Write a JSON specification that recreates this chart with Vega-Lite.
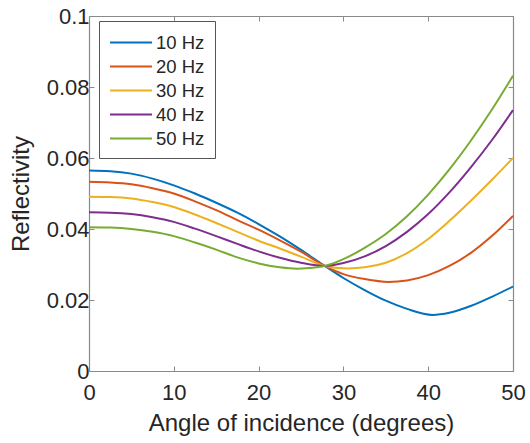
{
  "$schema": "https://vega.github.io/schema/vega-lite/v6.json",
  "autosize": "none",
  "width": 424,
  "height": 355,
  "padding": {"left": 89, "top": 16, "right": 17, "bottom": 72},
  "background": "white",
  "config": {
    "view": {"stroke": null},
    "font": "Liberation Sans",
    "axis": {
      "domainColor": "#8a8a8a",
      "tickColor": "#8a8a8a",
      "domainWidth": 1.2,
      "labelColor": "#262626",
      "titleColor": "#262626",
      "labelFont": "Liberation Sans",
      "titleFont": "Liberation Sans",
      "labelFontSize": 22,
      "titleFontSize": 24,
      "titleFontWeight": "normal",
      "labelFlush": false,
      "labelOverlap": false,
      "grid": false,
      "tickSize": -5
    },
    "legend": {
      "labelFont": "Liberation Sans",
      "labelFontSize": 18.5,
      "labelColor": "#262626"
    }
  },
  "data": {
    "values": [
      {"f": "10 Hz", "a": 0, "r": 0.0565}, {"f": "10 Hz", "a": 2.5, "r": 0.0563}, {"f": "10 Hz", "a": 5, "r": 0.0556}, {"f": "10 Hz", "a": 7.5, "r": 0.0542}, {"f": "10 Hz", "a": 10, "r": 0.0523}, {"f": "10 Hz", "a": 12.5, "r": 0.0500}, {"f": "10 Hz", "a": 15, "r": 0.0474}, {"f": "10 Hz", "a": 17.5, "r": 0.0446}, {"f": "10 Hz", "a": 20, "r": 0.0414}, {"f": "10 Hz", "a": 22.5, "r": 0.0379}, {"f": "10 Hz", "a": 25, "r": 0.0341}, {"f": "10 Hz", "a": 27.8, "r": 0.0296}, {"f": "10 Hz", "a": 30, "r": 0.0262}, {"f": "10 Hz", "a": 32.5, "r": 0.0228}, {"f": "10 Hz", "a": 35, "r": 0.0198}, {"f": "10 Hz", "a": 37.5, "r": 0.0175}, {"f": "10 Hz", "a": 40.5, "r": 0.0158}, {"f": "10 Hz", "a": 42.5, "r": 0.0164}, {"f": "10 Hz", "a": 45, "r": 0.0183}, {"f": "10 Hz", "a": 47.5, "r": 0.0209}, {"f": "10 Hz", "a": 50, "r": 0.0238},
      {"f": "20 Hz", "a": 0, "r": 0.0533}, {"f": "20 Hz", "a": 2.5, "r": 0.0531}, {"f": "20 Hz", "a": 5, "r": 0.0526}, {"f": "20 Hz", "a": 7.5, "r": 0.0515}, {"f": "20 Hz", "a": 10, "r": 0.0500}, {"f": "20 Hz", "a": 12.5, "r": 0.0478}, {"f": "20 Hz", "a": 15, "r": 0.0453}, {"f": "20 Hz", "a": 17.5, "r": 0.0425}, {"f": "20 Hz", "a": 20, "r": 0.0398}, {"f": "20 Hz", "a": 22.5, "r": 0.0368}, {"f": "20 Hz", "a": 25, "r": 0.0336}, {"f": "20 Hz", "a": 27.8, "r": 0.0296}, {"f": "20 Hz", "a": 30, "r": 0.0273}, {"f": "20 Hz", "a": 32.5, "r": 0.0259}, {"f": "20 Hz", "a": 35.3, "r": 0.0251}, {"f": "20 Hz", "a": 37.5, "r": 0.0255}, {"f": "20 Hz", "a": 40, "r": 0.0270}, {"f": "20 Hz", "a": 42.5, "r": 0.0296}, {"f": "20 Hz", "a": 45, "r": 0.0332}, {"f": "20 Hz", "a": 47.5, "r": 0.0380}, {"f": "20 Hz", "a": 50, "r": 0.0437},
      {"f": "30 Hz", "a": 0, "r": 0.0491}, {"f": "30 Hz", "a": 2.5, "r": 0.0490}, {"f": "30 Hz", "a": 5, "r": 0.0486}, {"f": "30 Hz", "a": 7.5, "r": 0.0476}, {"f": "30 Hz", "a": 10, "r": 0.0462}, {"f": "30 Hz", "a": 12.5, "r": 0.0441}, {"f": "30 Hz", "a": 15, "r": 0.0417}, {"f": "30 Hz", "a": 17.5, "r": 0.0392}, {"f": "30 Hz", "a": 20, "r": 0.0367}, {"f": "30 Hz", "a": 22.5, "r": 0.0345}, {"f": "30 Hz", "a": 25, "r": 0.0322}, {"f": "30 Hz", "a": 27.8, "r": 0.0296}, {"f": "30 Hz", "a": 30.5, "r": 0.0289}, {"f": "30 Hz", "a": 32.5, "r": 0.0292}, {"f": "30 Hz", "a": 35, "r": 0.0305}, {"f": "30 Hz", "a": 37.5, "r": 0.0332}, {"f": "30 Hz", "a": 40, "r": 0.0372}, {"f": "30 Hz", "a": 42.5, "r": 0.0423}, {"f": "30 Hz", "a": 45, "r": 0.0479}, {"f": "30 Hz", "a": 47.5, "r": 0.0538}, {"f": "30 Hz", "a": 50, "r": 0.0600},
      {"f": "40 Hz", "a": 0, "r": 0.0447}, {"f": "40 Hz", "a": 2.5, "r": 0.0446}, {"f": "40 Hz", "a": 5, "r": 0.0442}, {"f": "40 Hz", "a": 7.5, "r": 0.0433}, {"f": "40 Hz", "a": 10, "r": 0.0420}, {"f": "40 Hz", "a": 12.5, "r": 0.0401}, {"f": "40 Hz", "a": 15, "r": 0.0380}, {"f": "40 Hz", "a": 17.5, "r": 0.0358}, {"f": "40 Hz", "a": 20, "r": 0.0337}, {"f": "40 Hz", "a": 22.5, "r": 0.0319}, {"f": "40 Hz", "a": 25, "r": 0.0305}, {"f": "40 Hz", "a": 27.8, "r": 0.0296}, {"f": "40 Hz", "a": 30, "r": 0.0304}, {"f": "40 Hz", "a": 32.5, "r": 0.0323}, {"f": "40 Hz", "a": 35, "r": 0.0352}, {"f": "40 Hz", "a": 37.5, "r": 0.0392}, {"f": "40 Hz", "a": 40, "r": 0.0442}, {"f": "40 Hz", "a": 42.5, "r": 0.0503}, {"f": "40 Hz", "a": 45, "r": 0.0573}, {"f": "40 Hz", "a": 47.5, "r": 0.0650}, {"f": "40 Hz", "a": 50, "r": 0.0735},
      {"f": "50 Hz", "a": 0, "r": 0.0405}, {"f": "50 Hz", "a": 2.5, "r": 0.0404}, {"f": "50 Hz", "a": 5, "r": 0.0400}, {"f": "50 Hz", "a": 7.5, "r": 0.0392}, {"f": "50 Hz", "a": 10, "r": 0.0380}, {"f": "50 Hz", "a": 12.5, "r": 0.0362}, {"f": "50 Hz", "a": 15, "r": 0.0342}, {"f": "50 Hz", "a": 17.5, "r": 0.0320}, {"f": "50 Hz", "a": 20, "r": 0.0303}, {"f": "50 Hz", "a": 22.5, "r": 0.0292}, {"f": "50 Hz", "a": 24.5, "r": 0.0288}, {"f": "50 Hz", "a": 26, "r": 0.0290}, {"f": "50 Hz", "a": 27.8, "r": 0.0296}, {"f": "50 Hz", "a": 30, "r": 0.0315}, {"f": "50 Hz", "a": 32.5, "r": 0.0347}, {"f": "50 Hz", "a": 35, "r": 0.0386}, {"f": "50 Hz", "a": 37.5, "r": 0.0436}, {"f": "50 Hz", "a": 40, "r": 0.0497}, {"f": "50 Hz", "a": 42.5, "r": 0.0568}, {"f": "50 Hz", "a": 45, "r": 0.0648}, {"f": "50 Hz", "a": 47.5, "r": 0.0736}, {"f": "50 Hz", "a": 50, "r": 0.0832}
    ]
  },
  "layer": [
    {
      "mark": {"type": "line", "strokeWidth": 2, "interpolate": "monotone"},
      "encoding": {
        "x": {"field": "a", "type": "quantitative", "scale": {"domain": [0, 50], "nice": false, "zero": false},
          "axis": {"values": [0, 10, 20, 30, 40, 50], "title": "Angle of incidence (degrees)", "labelPadding": 16, "titlePadding": 8, "orient": "bottom"}},
        "y": {"field": "r", "type": "quantitative", "scale": {"domain": [0, 0.1], "nice": false},
          "axis": {"values": [0, 0.02, 0.04, 0.06, 0.08, 0.1], "format": "~g", "title": "Reflectivity", "labelPadding": 5, "titlePadding": 13, "orient": "left"}},
        "color": {"field": "f", "type": "nominal",
          "scale": {"domain": ["10 Hz", "20 Hz", "30 Hz", "40 Hz", "50 Hz"], "range": ["#0072BD", "#D95319", "#EDB120", "#7E2F8E", "#77AC30"]},
          "legend": {"title": null, "orient": "none", "legendX": 10, "legendY": 5, "symbolType": "M-1,0H3", "symbolSize": 441, "symbolStrokeWidth": 2, "labelOffset": 24, "rowPadding": 3, "padding": 10, "strokeColor": "#555555", "fillColor": "white", "labelFontSize": 18.5}}
      }
    },
    {
      "mark": {"type": "line", "strokeOpacity": 0},
      "encoding": {
        "x": {"field": "a", "type": "quantitative", "axis": {"orient": "top", "values": [0, 10, 20, 30, 40, 50], "labels": false, "title": null}},
        "y": {"field": "r", "type": "quantitative", "axis": {"orient": "right", "values": [0, 0.02, 0.04, 0.06, 0.08, 0.1], "labels": false, "title": null}},
        "detail": {"field": "f"}
      }
    }
  ],
  "resolve": {"axis": {"x": "independent", "y": "independent"}}
}
